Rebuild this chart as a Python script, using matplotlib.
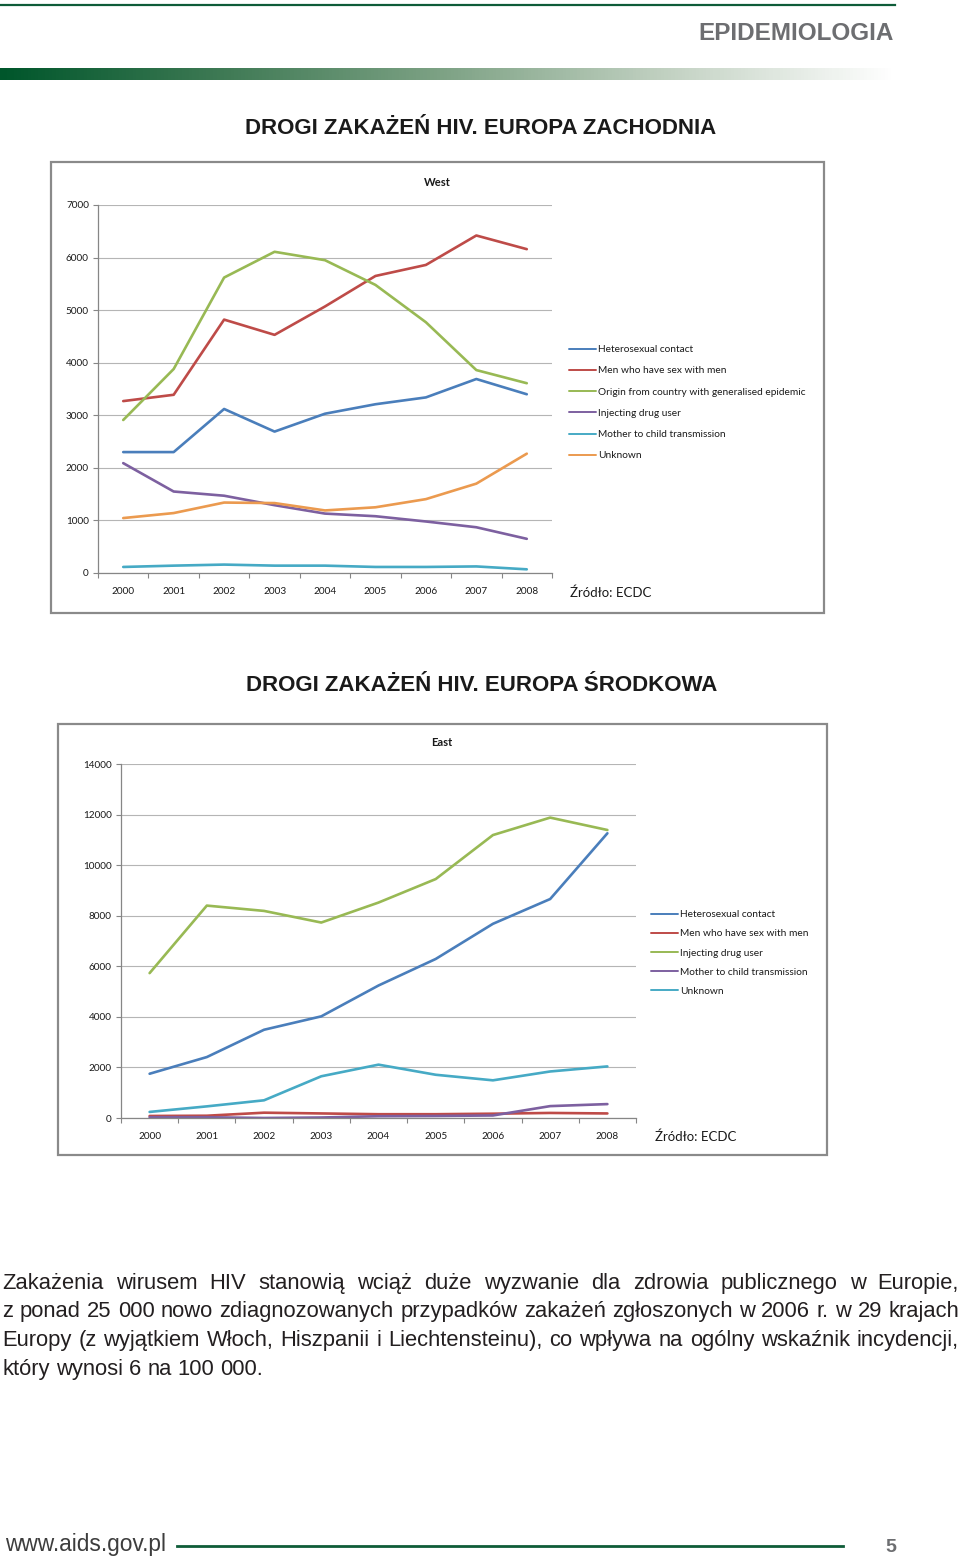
import matplotlib
matplotlib.use('Agg')
import matplotlib.pyplot as plt
from matplotlib import font_manager
from matplotlib.patches import Rectangle
from matplotlib.lines import Line2D
from matplotlib.colors import LinearSegmentedColormap
import numpy as np

# ---------------- data ----------------
years = ['2000', '2001', '2002', '2003', '2004', '2005', '2006', '2007', '2008']

west_labels = ['Heterosexual contact', 'Men who have sex with men',
               'Origin from country with generalised epidemic',
               'Injecting drug user', 'Mother to child transmission', 'Unknown']
west_hetero = [2300, 2300, 3120, 2690, 3030, 3210, 3340, 3690, 3400]
west_msm = [3270, 3390, 4820, 4530, 5070, 5650, 5860, 6420, 6160]
west_origin = [2910, 3880, 5620, 6110, 5950, 5480, 4770, 3860, 3610]
west_idu = [2090, 1550, 1470, 1290, 1130, 1080, 980, 870, 650]
west_mtct = [115, 140, 160, 140, 140, 115, 115, 125, 70]
west_unknown = [1045, 1140, 1340, 1330, 1190, 1250, 1405, 1700, 2270]

east_labels = ['Heterosexual contact', 'Men who have sex with men',
               'Injecting drug user', 'Mother to child transmission', 'Unknown']
east_hetero = [1750, 2410, 3490, 4020, 5240, 6290, 7680, 8660, 11260]
east_msm = [80, 90, 210, 180, 150, 150, 170, 200, 180]
east_idu = [5730, 8400, 8190, 7730, 8520, 9450, 11190, 11880, 11390]
east_mtct = [30, 30, 0, 20, 70, 80, 100, 470, 550]
east_unknown = [240, 460, 700, 1650, 2110, 1710, 1490, 1840, 2040]

header_text = 'EPIDEMIOLOGIA'
title_west = 'DROGI ZAKAŻEŃ HIV. EUROPA ZACHODNIA'
title_east = 'DROGI ZAKAŻEŃ HIV. EUROPA ŚRODKOWA'
source_text = 'Źródło: ECDC'
body_lines = [
    'Zakażenia wirusem HIV stanowią wciąż duże wyzwanie dla zdrowia publicznego w Europie,',
    'z ponad 25 000 nowo zdiagnozowanych przypadków zakażeń zgłoszonych w 2006 r. w 29 krajach',
    'Europy (z wyjątkiem Włoch, Hiszpanii i Liechtensteinu), co wpływa na ogólny wskaźnik incydencji,',
    'który wynosi 6 na 100 000.',
]
footer_url = 'www.aids.gov.pl'
page_no = '5'

# ---------------- styling ----------------
W, H = 960, 1558
avail = {f.name for f in font_manager.fontManager.ttflist}
NARROW = 'Liberation Sans Narrow' if 'Liberation Sans Narrow' in avail else 'Liberation Sans'
SANS = 'Liberation Sans'
CHART_FONT = 'Lato'

C_BLUE = '#4a7ebb'
C_RED = '#be4b48'
C_GREEN = '#98b954'
C_PURPLE = '#7d60a0'
C_TEAL = '#46aac5'
C_ORANGE = '#eb9a4f'
DARK_GREEN = '#0e5c38'

fig = plt.figure(figsize=(W / 100, H / 100), dpi=100)
fig.patch.set_facecolor('white')


def fx(px):
    return px / W


def fy(py):
    return 1 - py / H


# ---------------- header ----------------
fig.add_artist(Line2D([fx(0), fx(895)], [fy(5), fy(5)], color=DARK_GREEN, lw=1.6))
fig.text(fx(894), fy(34), header_text, ha='right', va='center', fontsize=17.5,
         fontweight='bold', family=NARROW, color='#6d6e71')

grad_ax = fig.add_axes([0, fy(80), fx(895), 12 / H])
cmap = LinearSegmentedColormap.from_list('g', ['#00562b', '#3f7a55', '#7fa386', '#c3d2c3', '#ffffff'])
grad_ax.imshow(np.linspace(0, 1, 256)[None, :], aspect='auto', cmap=cmap, extent=[0, 1, 0, 1])
grad_ax.axis('off')

# ---------------- charts ----------------


def chart_box(x0, y0, x1, y1):
    fig.add_artist(Rectangle((fx(x0), fy(y1)), (x1 - x0) / W, (y1 - y0) / H,
                             transform=fig.transFigure, facecolor='white',
                             edgecolor='#8a8a8a', lw=1.6, zorder=0))


def make_chart(rect, series, labels, colors, ymax, ystep, title, title_xy, leg_xy, src_xy, leg_spacing):
    x0, ytop, x1, ybot = rect
    ax = fig.add_axes([fx(x0), fy(ybot), (x1 - x0) / W, (ybot - ytop) / H])
    x = np.arange(len(years))
    handles = []
    for vals, lab, c in zip(series, labels, colors):
        h, = ax.plot(x, vals, color=c, lw=1.9, label=lab, solid_joinstyle='round',
                     solid_capstyle='round')
        handles.append(h)
    ax.set_xlim(-0.5, len(years) - 0.5)
    ax.set_ylim(0, ymax)
    ax.set_yticks(np.arange(0, ymax + 1, ystep))
    ax.set_xticks(x)
    ax.set_xticklabels(years)
    ax.set_xticks(np.arange(-0.5, len(years)), minor=True)
    ax.tick_params(axis='x', which='major', length=0, pad=10, labelsize=7.2)
    ax.tick_params(axis='x', which='minor', length=3.5, color='#868686', direction='out', width=0.8)
    ax.tick_params(axis='y', length=3.5, color='#868686', labelsize=7.2, pad=3, width=0.8)
    for lab in ax.get_xticklabels() + ax.get_yticklabels():
        lab.set_family(CHART_FONT)
        lab.set_color('#1a1a1a')
    ax.grid(axis='y', color='#b5b5b5', lw=0.8)
    ax.set_axisbelow(True)
    for s in ['top', 'right']:
        ax.spines[s].set_visible(False)
    for s in ['left', 'bottom']:
        ax.spines[s].set_color('#868686')
        ax.spines[s].set_linewidth(0.9)
    fig.text(fx(title_xy[0]), fy(title_xy[1]), title, ha='center', va='center',
             fontsize=8, fontweight='bold', family=CHART_FONT, color='#1a1a1a')
    leg = ax.legend(handles=handles, loc='upper left',
                    bbox_to_anchor=(fx(leg_xy[0]), fy(leg_xy[1])),
                    bbox_transform=fig.transFigure, frameon=False,
                    prop={'family': CHART_FONT, 'size': 7.3},
                    handlelength=2.7, handletextpad=0.15, labelspacing=leg_spacing,
                    borderpad=0, borderaxespad=0)
    for t in leg.get_texts():
        t.set_color('#1a1a1a')
    for l in leg.get_lines():
        l.set_linewidth(1.4)
    fig.text(fx(src_xy[0]), fy(src_xy[1]), source_text, ha='left', va='center',
             fontsize=9.5, family=CHART_FONT, color='#1a1a1a')
    return ax


fig.text(fx(481), fy(128), title_west, ha='center', va='center', fontsize=16,
         fontweight='bold', family=SANS, color='#1a1a1a')
chart_box(51, 162, 824, 613)
make_chart((98, 205, 552, 573),
           [west_hetero, west_msm, west_origin, west_idu, west_mtct, west_unknown],
           west_labels, [C_BLUE, C_RED, C_GREEN, C_PURPLE, C_TEAL, C_ORANGE],
           7000, 1000, 'West', (437, 182), (569, 345), (570, 593), 1.2)

fig.text(fx(482), fy(685), title_east, ha='center', va='center', fontsize=16,
         fontweight='bold', family=SANS, color='#1a1a1a')
chart_box(58, 724, 827, 1155)
make_chart((121, 764, 636, 1118),
           [east_hetero, east_msm, east_idu, east_mtct, east_unknown],
           east_labels, [C_BLUE, C_RED, C_GREEN, C_PURPLE, C_TEAL],
           14000, 2000, 'East', (442, 742), (651, 910), (655, 1137), 1.0)

# ---------------- body text (justified) ----------------
renderer = fig.canvas.get_renderer()
BODY_FS = 16.5
left_px, right_px = 2, 959
baselines = [1289, 1317, 1346, 1375]


def word_widths(words, fs):
    out = []
    for w in words:
        t = fig.text(0, 0, w, fontsize=fs, family=NARROW)
        out.append(t.get_window_extent(renderer).width)
        t.remove()
    return out


def space_width(fs):
    t1 = fig.text(0, 0, 'a a', fontsize=fs, family=NARROW)
    t2 = fig.text(0, 0, 'aa', fontsize=fs, family=NARROW)
    w = t1.get_window_extent(renderer).width - t2.get_window_extent(renderer).width
    t1.remove()
    t2.remove()
    return w


fs = BODY_FS
for _ in range(40):
    sw = space_width(fs) * 1.0
    worst = max(sum(word_widths(l.split(), fs)) + sw * (len(l.split()) - 1) for l in body_lines[:-1])
    if worst <= (right_px - left_px):
        break
    fs -= 0.1

sw_full = space_width(fs)
for i, line in enumerate(body_lines):
    words = line.split()
    widths = word_widths(words, fs)
    if i < len(body_lines) - 1:
        gap = ((right_px - left_px) - sum(widths)) / (len(words) - 1)
    else:
        gap = sw_full
    xpos = left_px
    for w, wd in zip(words, widths):
        fig.text(fx(xpos), fy(baselines[i]), w, fontsize=fs, family=NARROW,
                 color='#231f20', ha='left', va='baseline')
        xpos += wd + gap

# ---------------- footer ----------------
fig.text(fx(5), fy(1551), footer_url, ha='left', va='baseline', fontsize=16.4,
         family=NARROW, color='#3d3d3d')
fig.add_artist(Line2D([fx(177), fx(843)], [fy(1546), fy(1546)], color=DARK_GREEN, lw=2))
fig.text(fx(891), fy(1552), page_no, ha='center', va='baseline', fontsize=14,
         fontweight='bold', family=NARROW, color='#6d6e71')

fig.savefig('out.png', dpi=100, facecolor='white')
